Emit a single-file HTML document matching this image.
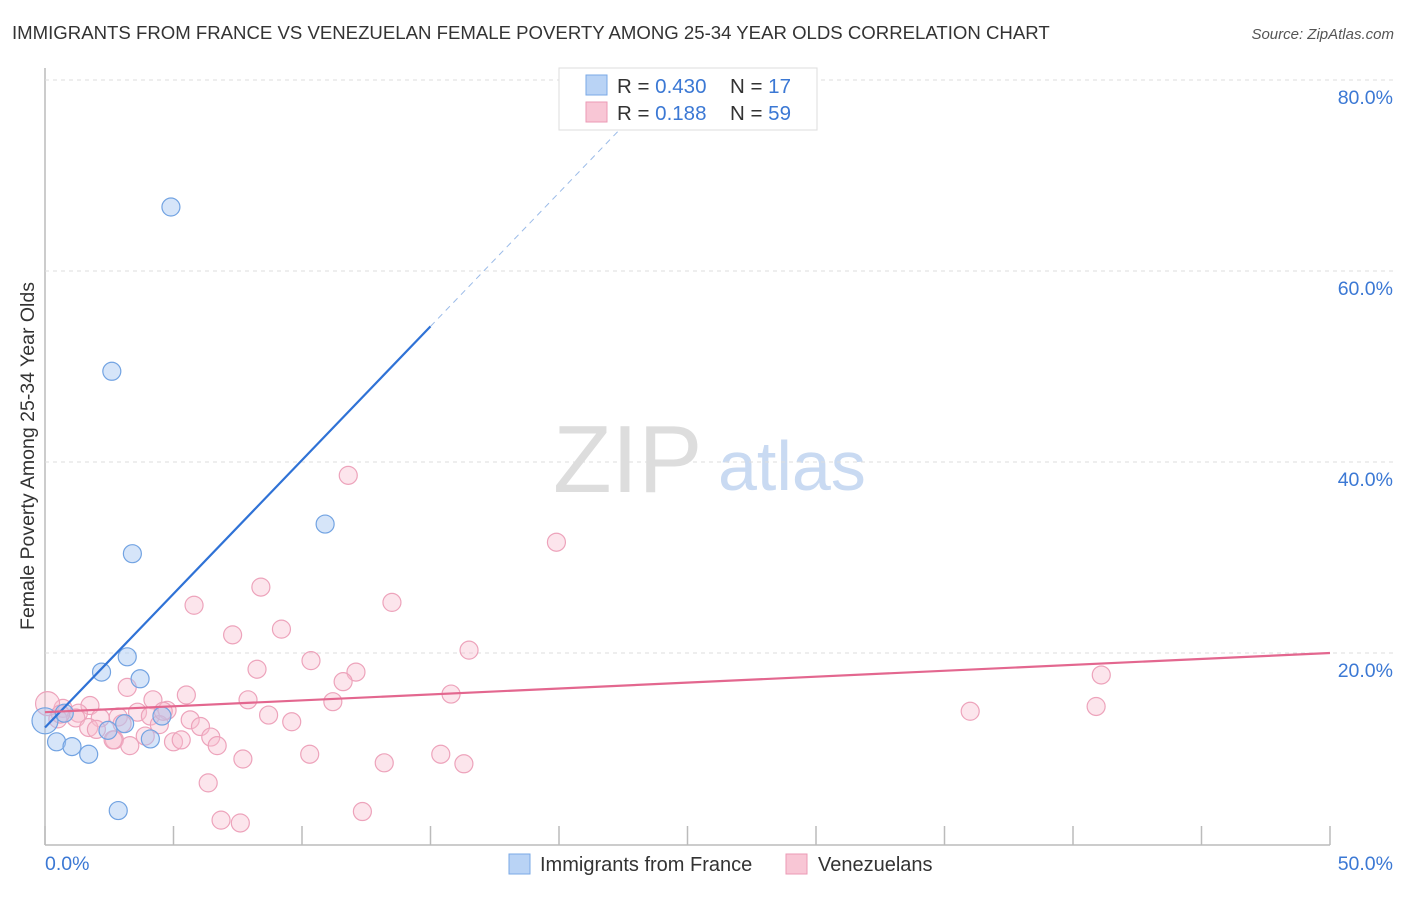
<!DOCTYPE html>
<html><head><meta charset="utf-8"><style>
body{margin:0;background:#fff;font-family:"Liberation Sans",sans-serif;}
svg text{font-family:"Liberation Sans",sans-serif;}
</style></head><body>
<svg id="c" width="1406" height="892">
<text x="12" y="39" font-size="18.6" fill="#333">IMMIGRANTS FROM FRANCE VS VENEZUELAN FEMALE POVERTY AMONG 25-34 YEAR OLDS CORRELATION CHART</text>
<text x="1394" y="39" font-size="15" fill="#555" font-style="italic" text-anchor="end">Source: ZipAtlas.com</text>
<g>
<text x="553" y="492" font-size="96" fill="#ddd" font-family="Liberation Serif,serif">ZIP</text>
<text x="718" y="490" font-size="70" fill="#c9daf2">atlas</text>
</g>
<g id="grid"></g><g id="pts"></g><g id="lines"></g>
<text transform="translate(34,456) rotate(-90)" font-size="19.5" fill="#333" text-anchor="middle">Female Poverty Among 25-34 Year Olds</text>
<g>
<rect x="559" y="68" width="258" height="62" fill="#fff" stroke="#ddd"/>
<rect x="586" y="75" width="21" height="20" fill="#b9d3f5" stroke="#7aa8e6"/>
<rect x="586" y="102" width="21" height="20" fill="#f8c6d5" stroke="#eb9ab5"/>
<text x="617" y="93" font-size="20.5" fill="#333">R = <tspan fill="#3b78d4">0.430</tspan></text>
<text x="730" y="93" font-size="20.5" fill="#333">N = <tspan fill="#3b78d4"> 17</tspan></text>
<text x="617" y="120" font-size="20.5" fill="#333">R = <tspan fill="#3b78d4"> 0.188</tspan></text>
<text x="730" y="120" font-size="20.5" fill="#333">N = <tspan fill="#3b78d4">59</tspan></text>
</g>
<g>
<rect x="509" y="854" width="21" height="20" fill="#b9d3f5" stroke="#7aa8e6"/>
<text x="540" y="871" font-size="20" fill="#333">Immigrants from France</text>
<rect x="786" y="854" width="21" height="20" fill="#f8c6d5" stroke="#eb9ab5"/>
<text x="818" y="871" font-size="20" fill="#333">Venezuelans</text>
</g>
</svg>
<script>
const xTicks=[0,5,10,15,20,25,30,35,40,45,50];
const yTicks=[20,40,60,80];
const blueX=[4.9,2.6,3.4,10.9,3.2,2.2,3.7,0,0.75,4.55,2.45,3.1,0.45,1.05,4.1,1.7,2.85];
const blueY=[66.7,49.5,30.4,33.5,19.6,18.0,17.3,12.9,13.7,13.4,11.9,12.6,10.7,10.2,11.0,9.4,3.5];
const pinkX=[11.8,19.9,8.4,13.5,5.8,9.2,7.3,16.5,10.35,8.25,12.1,41.1,3.2,11.6,15.8,5.5,4.2,7.9,11.2,1.75,0.7,4.75,1.3,3.6,2.85,4.1,5.65,2.15,0.5,6.05,4.45,3.0,4.6,0.1,36.0,40.9,8.7,2.7,3.3,2.65,5.0,5.3,6.45,6.7,7.7,10.3,13.2,15.4,16.3,6.35,6.85,7.6,12.35,1.2,1.7,0.6,3.9,2.0,9.6];
const pinkY=[38.6,31.6,26.9,25.3,25.0,22.5,21.9,20.3,19.2,18.3,18.0,17.7,16.4,17.0,15.7,15.6,15.1,15.1,14.9,14.5,14.2,14.0,13.7,13.8,13.3,13.4,13.0,13.2,13.1,12.3,12.5,12.6,13.9,14.7,13.9,14.4,13.5,10.9,10.3,10.9,10.7,10.9,11.2,10.3,8.9,9.4,8.5,9.4,8.4,6.4,2.5,2.2,3.4,13.2,12.2,13.6,11.3,12.0,12.8];
const blueFit=[[0,12.2],[15,54.2]], blueDash=[[15,54.2],[23.5,78.0]];
const pinkFit=[[0,13.8],[50,20.0]];
const X=v=>45+v*25.7, Y=v=>844-v*9.55;
const NS='http://www.w3.org/2000/svg';
function mk(t,a,p){const e=document.createElementNS(NS,t);for(const k in a)e.setAttribute(k,a[k]);p.appendChild(e);return e;}
const g=document.getElementById('grid');
let ax=mk('line',{x1:45,y1:68,x2:45,y2:845,stroke:'#bbb','stroke-width':1.5},g);


let bx=mk('line',{x1:45,y1:845,x2:1330,y2:845,stroke:'#bbb','stroke-width':1.5},g);


yTicks.forEach(v=>{
 const l=mk('line',{x1:45,y1:Y(v),x2:1395,y2:Y(v),stroke:'#ddd','stroke-dasharray':'4,4'},g);
 
 
 const t=mk('text',{x:1393,y:Y(v)+24,'font-size':19.5,fill:'#3b78d4','text-anchor':'end'},g);
 t.textContent=v.toFixed(1)+'%';
 
 
});
xTicks.forEach(v=>{
 const l=mk('line',{x1:X(v),y1:826,x2:X(v),y2:845,stroke:'#bbb','stroke-width':1.5},g);
 
 
});
[[0,'0.0%','start',45],[50,'50.0%','end',1393]].forEach(([v,s,a,x])=>{
 const t=mk('text',{x:x,y:870,'font-size':19.5,fill:'#3b78d4','text-anchor':a},g);
 t.textContent=s;
 
 
});
const P=document.getElementById('pts');
pinkX.forEach((x,i)=>{
 const r=i==33?12:9;
 const c=mk('circle',{cx:X(x),cy:Y(pinkY[i]),r:r,fill:'rgba(248,190,208,0.4)',stroke:'#eda3bb','stroke-width':1.2},P);
 
 
});
blueX.forEach((x,i)=>{
 const r=i==7?13:9;
 const c=mk('circle',{cx:X(x),cy:Y(blueY[i]),r:r,fill:'rgba(165,198,242,0.45)',stroke:'#72a3e2','stroke-width':1.2},P);
 
 
});
const L=document.getElementById('lines');
let b1=mk('line',{x1:X(blueFit[0][0]),y1:Y(blueFit[0][1]),x2:X(blueFit[1][0]),y2:Y(blueFit[1][1]),stroke:'#2f72d6','stroke-width':2.2},L);


let b2=mk('line',{x1:X(blueDash[0][0]),y1:Y(blueDash[0][1]),x2:X(blueDash[1][0]),y2:Y(blueDash[1][1]),stroke:'#9bbbe8','stroke-width':1,'stroke-dasharray':'6,5'},L);


let p1=mk('line',{x1:X(pinkFit[0][0]),y1:Y(pinkFit[0][1]),x2:X(pinkFit[1][0]),y2:Y(pinkFit[1][1]),stroke:'#e3678f','stroke-width':2.2},L);


</script>
</body></html>
